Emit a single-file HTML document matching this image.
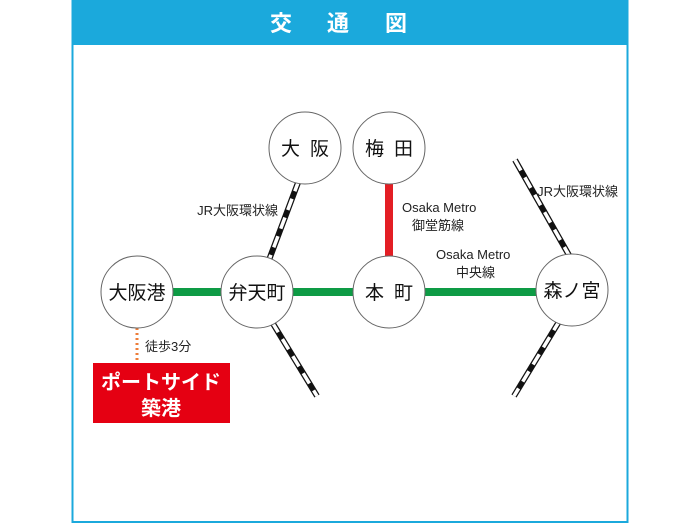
<!DOCTYPE html>
<html><head><meta charset="utf-8"><style>
body{margin:0;width:700px;height:525px;background:#fff;overflow:hidden}
svg text{font-family:"Liberation Sans","Noto Sans CJK JP",sans-serif}
</style></head><body>
<svg width="700" height="525" xmlns="http://www.w3.org/2000/svg">
<rect x="72.5" y="1" width="555" height="521" fill="#fff" stroke="#1ba9dc" stroke-width="2"/>
<rect x="72" y="0" width="556" height="45" fill="#1ba9dc"/>
<g fill="#fff" font-size="22" font-weight="bold" text-anchor="middle">
<text x="281" y="31">交</text><text x="338" y="31">通</text><text x="396" y="31">図</text>
</g>
<g stroke-linecap="butt">
<g>
<line x1="299" y1="180" x2="269" y2="260" stroke="#111" stroke-width="6"/>
<line x1="299" y1="180" x2="269" y2="260" stroke="#fff" stroke-width="3.5" stroke-dasharray="12 8"/>
<line x1="272" y1="322" x2="317" y2="396" stroke="#111" stroke-width="6"/>
<line x1="272" y1="322" x2="317" y2="396" stroke="#fff" stroke-width="3.5" stroke-dasharray="12 8"/>
<line x1="515" y1="160" x2="570" y2="257" stroke="#111" stroke-width="6"/>
<line x1="515" y1="160" x2="570" y2="257" stroke="#fff" stroke-width="3.5" stroke-dasharray="12 8"/>
<line x1="560" y1="320" x2="514" y2="396" stroke="#111" stroke-width="6"/>
<line x1="560" y1="320" x2="514" y2="396" stroke="#fff" stroke-width="3.5" stroke-dasharray="12 8"/>
</g>
<line x1="170" y1="292" x2="540" y2="292" stroke="#0e9b45" stroke-width="8"/>
<line x1="389" y1="180" x2="389" y2="260" stroke="#e31e24" stroke-width="8"/>
<line x1="137" y1="328" x2="137" y2="363" stroke="#ee7d3a" stroke-width="3" stroke-dasharray="2 3"/>
</g>
<g fill="#fff" stroke="#666" stroke-width="1">
<circle cx="137" cy="292" r="36"/>
<circle cx="257" cy="292" r="36"/>
<circle cx="389" cy="292" r="36"/>
<circle cx="305" cy="148" r="36"/>
<circle cx="389" cy="148" r="36"/>
<circle cx="572" cy="290" r="36"/>
</g>
<g font-size="19" fill="#111" text-anchor="middle">
<text x="137" y="299">大阪港</text>
<text x="257" y="299">弁天町</text>
<text x="389" y="299" letter-spacing="10" dx="5">本町</text>
<text x="305" y="155" letter-spacing="10" dx="5">大阪</text>
<text x="389" y="155" letter-spacing="10" dx="5">梅田</text>
<text x="572" y="297">森ノ宮</text>
</g>
<g font-size="13" fill="#222">
<text x="278" y="215" text-anchor="end">JR大阪環状線</text>
<text x="618" y="196" text-anchor="end">JR大阪環状線</text>
<text x="402" y="212">Osaka Metro</text>
<text x="412" y="230">御堂筋線</text>
<text x="436" y="259">Osaka Metro</text>
<text x="456" y="277">中央線</text>
<text x="145" y="351">徒歩3分</text>
</g>
<rect x="93" y="363" width="137" height="60" fill="#e50012"/>
<g fill="#fff" font-size="20" font-weight="bold" text-anchor="middle">
<text x="161" y="389">ポートサイド</text>
<text x="161" y="415">築港</text>
</g>
</svg>
</body></html>
